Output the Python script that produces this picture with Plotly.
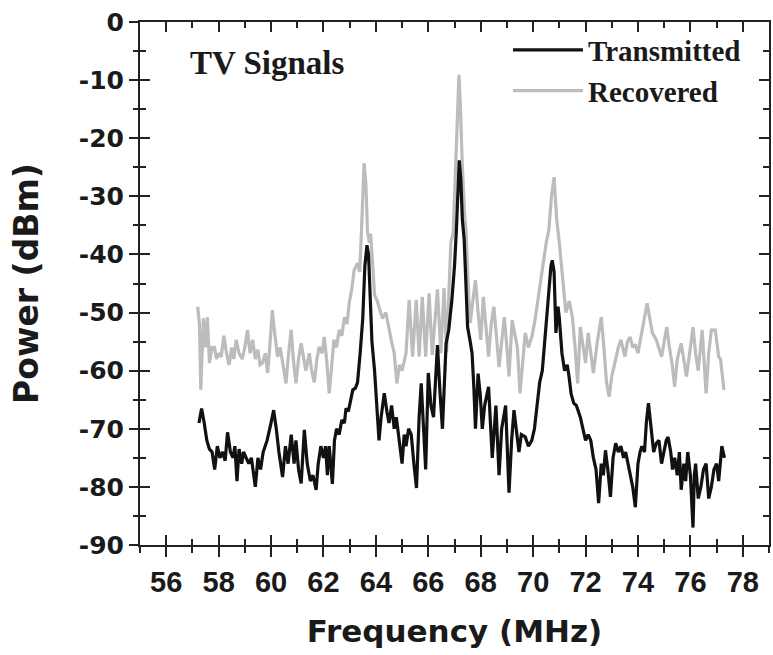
import plotly.graph_objects as go

# ---- data ----
freq_tx = [57.25, 57.35, 57.45, 57.55, 57.65, 57.75, 57.85, 57.95, 58.05, 58.15, 58.25, 58.34, 58.45, 58.55, 58.62,
           58.7, 58.78, 58.88, 58.95, 59.05, 59.15, 59.25, 59.4, 59.5, 59.6, 59.7, 59.85, 60.0, 60.1, 60.2,
           60.3, 60.44, 60.55, 60.65, 60.77, 60.88, 60.95, 61.05, 61.15, 61.27, 61.38, 61.5, 61.6, 61.72, 61.8,
           61.9, 62.0, 62.08, 62.15, 62.22, 62.34, 62.42, 62.5, 62.6, 62.7, 62.8, 62.86, 62.95, 63.05, 63.12,
           63.22, 63.3, 63.4, 63.5, 63.58, 63.66, 63.72, 63.78, 63.85, 63.95, 64.05, 64.12, 64.2, 64.32, 64.42,
           64.5, 64.6, 64.7, 64.78, 64.9, 65.0, 65.08, 65.15, 65.25, 65.35, 65.45, 65.55, 65.65, 65.73, 65.82,
           65.9, 66.0, 66.1, 66.2, 66.35, 66.45, 66.54, 66.68, 66.78, 66.9, 67.0, 67.07, 67.13, 67.18, 67.24,
           67.3, 67.37, 67.44, 67.5, 67.6, 67.67, 67.74, 67.8, 67.9, 67.98, 68.06, 68.15, 68.3, 68.38, 68.44,
           68.58, 68.7, 68.8, 68.95, 69.08, 69.18, 69.27, 69.36, 69.46, 69.55, 69.7, 69.82, 69.95, 70.05, 70.15,
           70.25, 70.35, 70.5, 70.6, 70.68, 70.73, 70.8, 70.87, 70.95, 71.0, 71.1, 71.2, 71.3, 71.37, 71.45,
           71.55, 71.65, 71.8, 71.9, 72.0, 72.1, 72.2, 72.3, 72.4, 72.5, 72.6, 72.68, 72.76, 72.85, 72.95,
           73.05, 73.15, 73.25, 73.35, 73.45, 73.53, 73.62, 73.7, 73.8, 73.9, 74.0, 74.08, 74.15, 74.25, 74.32,
           74.4, 74.5, 74.6, 74.7, 74.8, 74.9, 75.0, 75.08, 75.15, 75.25, 75.32, 75.4, 75.5, 75.58, 75.65,
           75.75, 75.82, 75.9, 76.0, 76.1, 76.15, 76.2, 76.3, 76.4, 76.5, 76.6, 76.7, 76.8, 76.9, 77.0,
           77.08, 77.15, 77.2, 77.3]
power_tx = [-69, -66.5, -69, -72, -73.5, -74, -77, -73, -75, -74, -75.5, -70.6, -74, -75, -73,
            -79, -73.5, -76, -74, -75, -76, -75, -80, -75, -77, -74, -72, -69, -66.8, -70,
            -74, -78.3, -73, -76, -71, -76, -72, -77, -79.4, -70.2, -76, -79, -78, -80.5, -76,
            -73, -75, -73, -78, -73, -79.5, -72, -70, -71, -68.5, -69, -66.5, -67, -64.5, -63.3,
            -63, -62, -57, -51, -42, -38.4, -40, -49, -55, -60, -66, -72, -68, -63.9, -67,
            -69, -66, -70, -68, -72, -76, -71, -73, -70, -71, -76, -80.2, -68, -62.2, -70,
            -77, -60.4, -66, -68, -55.6, -64, -70, -55.3, -53, -47.8, -42, -36, -28, -23.8, -27,
            -34, -37.5, -46, -52.5, -55, -57, -63, -70, -60.5, -64, -70, -66, -62.8, -69, -75,
            -66, -78, -70, -66, -81, -72, -66.8, -70, -74, -71, -71.4, -73, -72, -70, -66,
            -62, -60, -52, -47, -42, -41, -43, -53.5, -49, -51, -57, -60, -59, -61, -64,
            -65.6, -66, -68, -70, -72, -71, -72, -75, -77, -82.8, -76, -78, -73.7, -77, -81.7,
            -75, -72.5, -74, -73, -75, -74, -76, -78, -80, -83.5, -76, -74, -73, -74, -69,
            -65.6, -70, -74, -72.5, -72, -76, -74, -72, -71.4, -74, -77, -75, -78, -74, -80.5,
            -76, -79, -74, -78, -87, -78, -76, -82, -80, -77, -76, -82, -80, -77, -76,
            -79, -76, -73, -75]

freq_rx = [57.2, 57.27, 57.32, 57.42, 57.5, 57.57, 57.65, 57.75, 57.84, 57.92, 58.0, 58.1, 58.2, 58.3, 58.4,
           58.5, 58.58, 58.67, 58.78, 58.9, 59.0, 59.1, 59.2, 59.3, 59.4, 59.5, 59.58, 59.67, 59.78, 59.87,
           59.95, 60.05, 60.15, 60.25, 60.35, 60.45, 60.57, 60.67, 60.77, 60.85, 60.95, 61.05, 61.15, 61.25, 61.33,
           61.46, 61.55, 61.65, 61.75, 61.84, 61.95, 62.03, 62.12, 62.22, 62.3, 62.4, 62.5, 62.6, 62.7, 62.8,
           62.9, 62.98, 63.08, 63.17, 63.3, 63.38, 63.45, 63.5, 63.55, 63.62, 63.68, 63.75, 63.8, 63.88, 63.95,
           64.05, 64.12, 64.25, 64.38, 64.5, 64.6, 64.7, 64.8, 64.9, 65.0, 65.15, 65.27, 65.4, 65.54, 65.65,
           65.77, 65.9, 66.03, 66.15, 66.35, 66.48, 66.6, 66.7, 66.78, 66.86, 66.95, 67.05, 67.12, 67.17, 67.22,
           67.3, 67.4, 67.44, 67.52, 67.6, 67.7, 67.8, 67.9, 68.0, 68.1, 68.2, 68.3, 68.4, 68.5, 68.6,
           68.7, 68.8, 68.9, 69.0, 69.08, 69.2, 69.3, 69.4, 69.5, 69.6, 69.7, 69.82, 69.96, 70.08, 70.2,
           70.3, 70.4, 70.5, 70.6, 70.7, 70.8, 70.9, 71.0, 71.1, 71.25, 71.38, 71.5, 71.6, 71.7, 71.8,
           71.9, 72.0, 72.1, 72.2, 72.3, 72.45, 72.6, 72.7, 72.8, 72.9, 73.0, 73.15, 73.25, 73.35, 73.5,
           73.6, 73.7, 73.8, 73.9, 74.0, 74.15, 74.25, 74.35, 74.45, 74.55, 74.7, 74.8, 74.9, 75.0, 75.1,
           75.2, 75.3, 75.4, 75.5, 75.65, 75.75, 75.85, 76.0, 76.1, 76.2, 76.3, 76.45, 76.6, 76.7, 76.8,
           76.95, 77.08, 77.15, 77.2, 77.28]
power_rx = [-49, -52, -63.3, -51, -56, -50.8, -58.7, -56, -56, -58, -57, -57.6, -54, -57, -59,
            -56, -58, -54.7, -57, -58, -56, -53, -57, -54.7, -58, -56.4, -59, -58.7, -57, -60.4,
            -56, -49.6, -54, -57.6, -56, -58.7, -62.2, -57, -53, -58, -62.2, -58, -55.3, -58, -60,
            -57, -60, -62, -58, -55.9, -57, -54.2, -58, -63.9, -59, -54.7, -56, -53, -54, -50.8,
            -52, -48.4, -46, -42.7, -41.5, -43, -36, -30, -24.3, -28, -36, -38, -36.4, -42, -47,
            -48, -49, -51, -50, -53, -55, -57, -62.2, -59, -60, -57, -47.8, -57.6, -47.8, -57.6,
            -47.3, -57.6, -46.7, -57.3, -46, -57, -45.8, -56.8, -48, -38, -36.3, -25, -14, -9.1, -14,
            -25, -34, -35.8, -45, -51.8, -48, -44.4, -50, -54.7, -47.3, -52, -57.6, -52, -49, -54,
            -59.4, -55, -50.8, -56, -61, -51.3, -54, -56, -63.9, -58, -53.5, -56, -54, -51, -47.3,
            -44, -40.4, -38, -35.8, -30, -26.7, -34, -38, -43.2, -50, -48, -50.8, -56, -62.2, -52.5,
            -56, -58.7, -53.5, -57, -60.4, -55, -50.8, -56, -62, -64.5, -61, -58, -56, -54.7, -57.6,
            -55, -54.2, -56, -55.5, -57, -53.5, -51, -48.4, -51, -53.5, -54.7, -56, -57.6, -55, -52.5,
            -56, -58.7, -62.8, -58, -55.3, -58, -61, -56, -52.5, -57, -60, -53, -63.9, -57, -53,
            -53, -57.6, -58, -60, -63.3]

x_ticks = [56, 58, 60, 62, 64, 66, 68, 70, 72, 74, 76, 78]
y_ticks = [0, -10, -20, -30, -40, -50, -60, -70, -80, -90]
y_tick_text = ["0", "-10", "-20", "-30", "-40", "-50", "-60", "-70", "-80", "-90"]

# ---- figure ----
fig = go.Figure()
fig.add_trace(go.Scatter(x=freq_rx, y=power_rx, mode="lines", name="Recovered",
                         line=dict(color="#bcbcbc", width=3.2)))
fig.add_trace(go.Scatter(x=freq_tx, y=power_tx, mode="lines", name="Transmitted",
                         line=dict(color="#111111", width=3.2)))

axis_col = "#222222"
tick_font_x = dict(family="Liberation Sans", size=29, color="#1a1a1a", weight="bold")
tick_font_y = dict(family="DejaVu Sans", size=25, color="#1a1a1a", weight="bold")
title_font_x = dict(family="DejaVu Sans", size=31, color="#1a1a1a", weight="bold")
title_font_y = dict(family="DejaVu Sans", size=33, color="#1a1a1a", weight="bold")

fig.update_layout(
    width=773, height=655,
    margin=dict(l=140, r=2, t=22, b=110),
    paper_bgcolor="white", plot_bgcolor="white",
    showlegend=True,
    legend=dict(x=0.585, y=0.995, xanchor="left", yanchor="top",
                traceorder="reversed", bgcolor="rgba(0,0,0,0)",
                font=dict(family="Liberation Serif", size=29, color="#1a1a1a", weight="bold"),
                itemwidth=70, tracegroupgap=0),
    xaxis=dict(range=[55, 79], tickvals=x_ticks, ticks="outside", ticklen=10, tickwidth=2,
               tickcolor=axis_col, showline=True, linewidth=2, linecolor=axis_col,
               showgrid=False, zeroline=False, tickfont=tick_font_x,
               minor=dict(dtick=1, tick0=55, ticks="outside", ticklen=6, tickwidth=2, tickcolor=axis_col),
               title=dict(text="Frequency (MHz)", font=title_font_x, standoff=24)),
    yaxis=dict(range=[-90, 0], tickvals=y_ticks, ticktext=y_tick_text, ticks="outside", ticklen=9,
               tickwidth=2, tickcolor=axis_col, showline=True, linewidth=2, linecolor=axis_col,
               showgrid=False, zeroline=False, tickfont=tick_font_y,
               minor=dict(dtick=5, tick0=-85, ticks="outside", ticklen=5, tickwidth=2, tickcolor=axis_col),
               title=dict(text="Power (dBm)", font=title_font_y, standoff=30)),
    xaxis2=dict(overlaying="x", anchor="y", side="bottom", range=[55, 79], tickvals=x_ticks,
                ticks="inside", ticklen=10, tickwidth=2, tickcolor=axis_col,
                showline=True, linewidth=2, linecolor=axis_col, mirror="ticks",
                showticklabels=False, showgrid=False, zeroline=False,
                minor=dict(dtick=1, tick0=55, ticks="inside", ticklen=6, tickwidth=2, tickcolor=axis_col)),
    yaxis2=dict(overlaying="y", anchor="x", side="left", range=[-90, 0], tickvals=y_ticks,
                ticks="inside", ticklen=10, tickwidth=2, tickcolor=axis_col,
                showline=True, linewidth=2, linecolor=axis_col, mirror="ticks",
                showticklabels=False, showgrid=False, zeroline=False,
                minor=dict(dtick=5, tick0=-85, ticks="inside", ticklen=6, tickwidth=2, tickcolor=axis_col)),
    annotations=[dict(text="TV Signals", xref="paper", yref="paper", x=0.076, y=0.922,
                      xanchor="left", yanchor="middle", showarrow=False,
                      font=dict(family="Liberation Serif", size=33, color="#1a1a1a", weight="bold"))],
)
# anchor trace for the overlay axes (no visible marks)
fig.add_trace(go.Scatter(x=[None], y=[None], xaxis="x2", yaxis="y2", showlegend=False,
                         hoverinfo="skip", mode="lines"))

fig.write_html("out.html")
